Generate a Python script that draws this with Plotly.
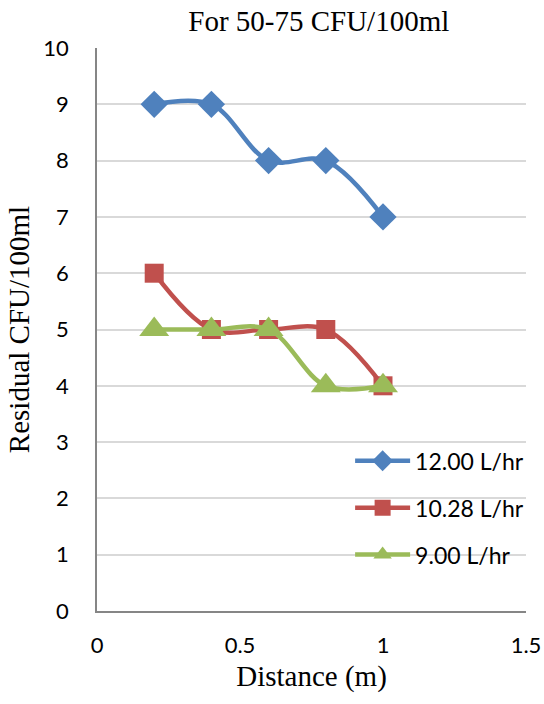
import plotly.graph_objects as go

# Residual counts for the 50-75 CFU/100ml inlet range
distance = [0.2, 0.4, 0.6, 0.8, 1.0]
flow_12_00 = [9, 9, 8, 8, 7]
flow_10_28 = [6, 5, 5, 5, 4]
flow_9_00 = [5, 5, 5, 4, 4]

series_names = ["12.00 L/hr", "10.28 L/hr", "9.00 L/hr"]
series_values = [flow_12_00, flow_10_28, flow_9_00]
colors = ["#4F81BD", "#C0504D", "#9BBB59"]
symbols = ["diamond", "square", "triangle-up"]
marker_sizes = [21, 19, 26]

x_ticks = [0, 0.5, 1, 1.5]
x_tick_text = ["0", "0.5", "1", "1.5"]
y_ticks = list(range(0, 11))

tick_font = dict(family="Lato, Open Sans, sans-serif", size=22, color="#000000")
legend_font = dict(family="Lato, Open Sans, sans-serif", size=23, color="#000000")
serif = "Liberation Serif, Times New Roman, serif"

fig = go.Figure()
for i, (name, vals) in enumerate(zip(series_names, series_values)):
    fig.add_trace(go.Scatter(
        x=distance, y=vals, name=name, mode="lines+markers",
        line=dict(color=colors[i], width=4.5, shape="spline", smoothing=1.0),
        marker=dict(symbol=symbols[i], size=marker_sizes[i], color=colors[i]),
        legendgroup=f"g{i}",
    ))

fig.update_layout(
    width=544, height=704,
    margin=dict(l=97, r=18, t=48, b=93, autoexpand=False),
    paper_bgcolor="white", plot_bgcolor="white",
    title=dict(text="For 50-75 CFU/100ml", x=0.586, xanchor="center",
               y=0.970, yanchor="middle",
               font=dict(family=serif, size=29, color="#000000")),
    showlegend=True,
    legend=dict(x=0.59, xanchor="left", y=0.305, yanchor="top",
                bgcolor="rgba(0,0,0,0)", font=legend_font,
                tracegroupgap=14, itemwidth=55),
    xaxis=dict(range=[0, 1.5], tickvals=x_ticks, ticktext=x_tick_text,
               automargin=False,
               showgrid=False, zeroline=False, showline=True,
               linecolor="#868686", linewidth=1.5,
               ticks="outside", ticklen=14, tickcolor="rgba(0,0,0,0)",
               tickfont=tick_font,
               title=dict(text="Distance (m)", standoff=9,
                          font=dict(family=serif, size=29, color="#000000"))),
    yaxis=dict(range=[0, 10], tickvals=y_ticks,
               automargin=False,
               showgrid=True, gridcolor="#D9D9D9", gridwidth=1.5,
               zeroline=False, showline=True,
               linecolor="#868686", linewidth=1.5,
               ticks="outside", ticklen=22, tickcolor="rgba(0,0,0,0)",
               tickfont=tick_font,
               title=dict(text="Residual CFU/100ml", standoff=5,
                          font=dict(family=serif, size=29, color="#000000"))),
)

fig.write_html("out.html")
